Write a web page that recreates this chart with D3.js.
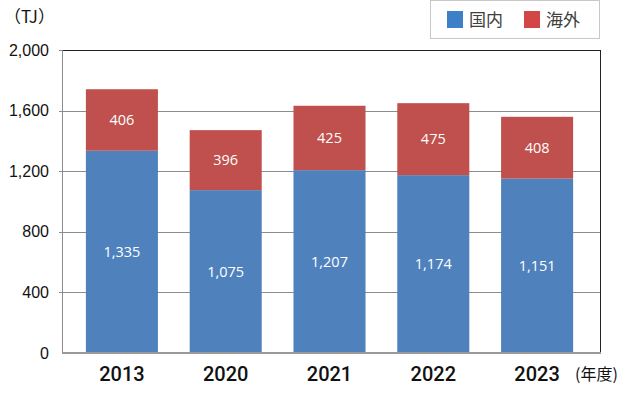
<!DOCTYPE html>
<html><head><meta charset="utf-8">
<script src="https://cdn.jsdelivr.net/npm/d3@7"></script>
<style>body{margin:0;background:#fff;}svg{display:block;}</style>
</head><body>
<svg id="c" width="640" height="400"></svg>
<script>
const categories = ["2013","2020","2021","2022","2023"];
const domestic = [1335,1075,1207,1174,1151];
const overseas = [406,396,425,475,408];
const yTicks = [0,400,800,1200,1600,2000];
const seriesNames = ["国内","海外"];
const colors = ["#4F81BD","#C0504D"];
const legendColors = ["#3D80C8","#D24646"];

const svg = d3.select("#c");
const L=62,R=601,T=50,B=353;
const y = d3.scaleLinear().domain([0,2000]).range([B,T]);
const x = d3.scaleBand().domain(categories).range([70,589]).paddingInner(0.306).paddingOuter(0.153);

// gridlines
svg.append("g").selectAll("line").data(yTicks.slice(1)).join("line")
  .attr("x1",L-3).attr("x2",R).attr("y1",d=>Math.round(y(d))+0.5).attr("y2",d=>Math.round(y(d))+0.5)
  .attr("stroke","#8c8c8c").attr("stroke-width",1);

// plot border
svg.append("rect").attr("x",L+0.5).attr("y",Math.round(T)+0.5).attr("width",R-L-1).attr("height",B-T)
  .attr("fill","none").attr("stroke","#222").attr("stroke-width",1);
svg.append("line").attr("x1",L+0.5).attr("x2",L+0.5).attr("y1",T).attr("y2",B).attr("stroke","#8c8c8c");

const data = categories.map((c,i)=>({c, d:domestic[i], o:overseas[i]}));
const stack = d3.stack().keys(["d","o"])(data);

const g = svg.append("g");
stack.forEach((s,si)=>{
  g.selectAll(null).data(s).join("rect")
    .attr("x",d=>x(d.data.c)).attr("width",x.bandwidth())
    .attr("y",d=>y(d[1])).attr("height",d=>y(d[0])-y(d[1]))
    .attr("fill",colors[si]);
  g.selectAll(null).data(s).join("text")
    .attr("x",d=>x(d.data.c)+x.bandwidth()/2)
    .attr("y",d=>(y(d[0])+y(d[1]))/2)
    .attr("dy","0.35em").attr("text-anchor","middle")
    .attr("fill","#fff").attr("font-family","'Open Sans','Noto Sans',sans-serif").attr("font-size",14.5)
    .text(d=>d3.format(",")(d[1]-d[0]));
});

// bottom axis
svg.append("line").attr("x1",L).attr("x2",R).attr("y1",B).attr("y2",B).attr("stroke","#999").attr("stroke-width",2);

// y tick labels
svg.append("g").selectAll("text").data(yTicks).join("text")
  .attr("x",49).attr("y",d=>y(d)).attr("dy","0.35em").attr("text-anchor","end")
  .attr("font-family","'Liberation Sans',Arial,sans-serif").attr("font-size",16).attr("fill","#111")
  .text(d=>d3.format(",")(d));

// x labels
svg.append("g").selectAll("text").data(categories).join("text")
  .attr("x",d=>x(d)+x.bandwidth()/2).attr("y",380.5).attr("text-anchor","middle")
  .attr("font-family","Roboto,'Liberation Sans',sans-serif").attr("font-size",20).attr("font-weight",500).attr("fill","#111")
  .text(d=>d);

svg.append("text").attr("x",575).attr("y",379.5).attr("font-family","'Noto Sans CJK JP',sans-serif")
  .attr("font-size",16).attr("fill","#111").text("(年度)");

svg.append("text").attr("x",4).attr("y",23).attr("font-family","'Noto Sans CJK JP',sans-serif")
  .attr("font-size",17).attr("fill","#111").text("（TJ）");

// legend
const lg = svg.append("g");
lg.append("rect").attr("x",430.5).attr("y",0.5).attr("width",169).attr("height",38)
  .attr("fill","#fff").attr("stroke","#c8c8c8");
const lx=[447,524];
seriesNames.forEach((n,i)=>{
  lg.append("rect").attr("x",lx[i]).attr("y",11).attr("width",16).attr("height",17).attr("fill",legendColors[i]);
  lg.append("text").attr("x",lx[i]+22).attr("y",26).attr("font-family","'Noto Sans CJK JP',sans-serif")
    .attr("font-size",17).attr("fill","#404040").text(n);
});
</script>
</body></html>
